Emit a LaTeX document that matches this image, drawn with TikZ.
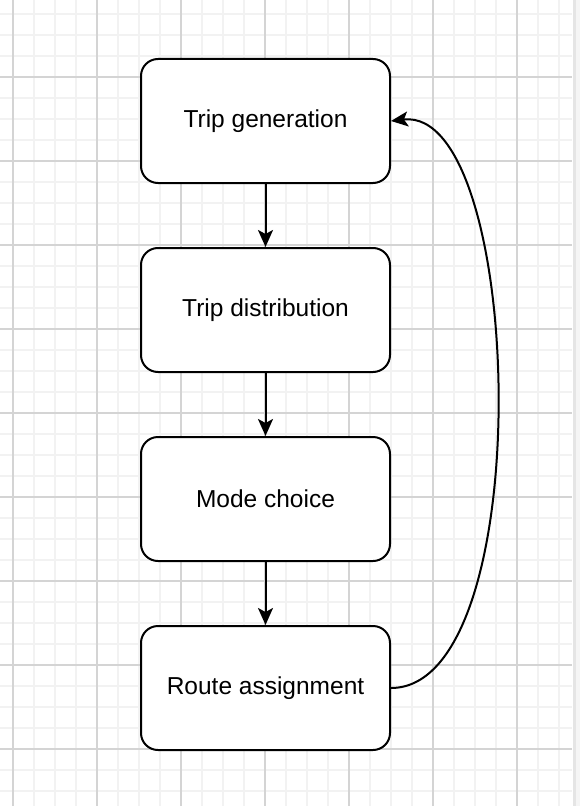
\documentclass[tikz,border=0pt]{standalone}
\usepackage{fontspec}
\setmainfont{Liberation Sans}
\usetikzlibrary{arrows.meta}
\definecolor{minorgrid}{HTML}{F2F2F2}
\definecolor{majorgrid}{HTML}{D4D4D4}
\begin{document}
\begin{tikzpicture}[x=1bp,y=-1bp,
  stepbox/.style={draw=black,line width=2bp,rounded corners=17bp,fill=white,
    minimum width=249bp,minimum height=124bp,inner sep=0pt,
    font=\fontsize{24.5bp}{29bp}\selectfont},
  arr/.style={line width=2bp,-{Stealth[length=17bp,width=15bp,inset=4bp]}},
  minorline/.style={draw=minorgrid,line width=2bp},
  majorline/.style={draw=majorgrid,line width=1.2bp}]
\useasboundingbox (0,0) rectangle (580,806);
\fill[white] (0,0) rectangle (580,806);
% grid
\foreach \i in {0,...,26} {\draw[minorline] (13+21*\i,0) -- (13+21*\i,806);}
\foreach \j in {0,...,38} {\draw[minorline] (0,14+21*\j) -- (572,14+21*\j);}
\foreach \i in {0,...,6} {\draw[majorline] (13+84*\i,0) -- (13+84*\i,806);}
\foreach \j in {0,...,8} {\draw[majorline] (0,77+84*\j) -- (572,77+84*\j);}
\fill[white] (572,0) rectangle (580,806);
\fill[black!10] (573,0) rectangle (576,806);
\fill[black!4] (576,0) rectangle (580,806);
% boxes
\node[stepbox] (t1) at (265.5,121) {Trip generation};
\node[stepbox] (t2) at (265.5,310) {Trip distribution};
\node[stepbox] (t3) at (265.5,499) {Mode choice};
\node[stepbox] (t4) at (265.5,688) {Route assignment};
% connectors
\draw[arr] (t1) -- (t2);
\draw[arr] (t2) -- (t3);
\draw[arr] (t3) -- (t4);
\draw[arr] (t4.east) .. controls +(149,0) and +(134,-16) .. (t1.east);
\end{tikzpicture}
\end{document}
